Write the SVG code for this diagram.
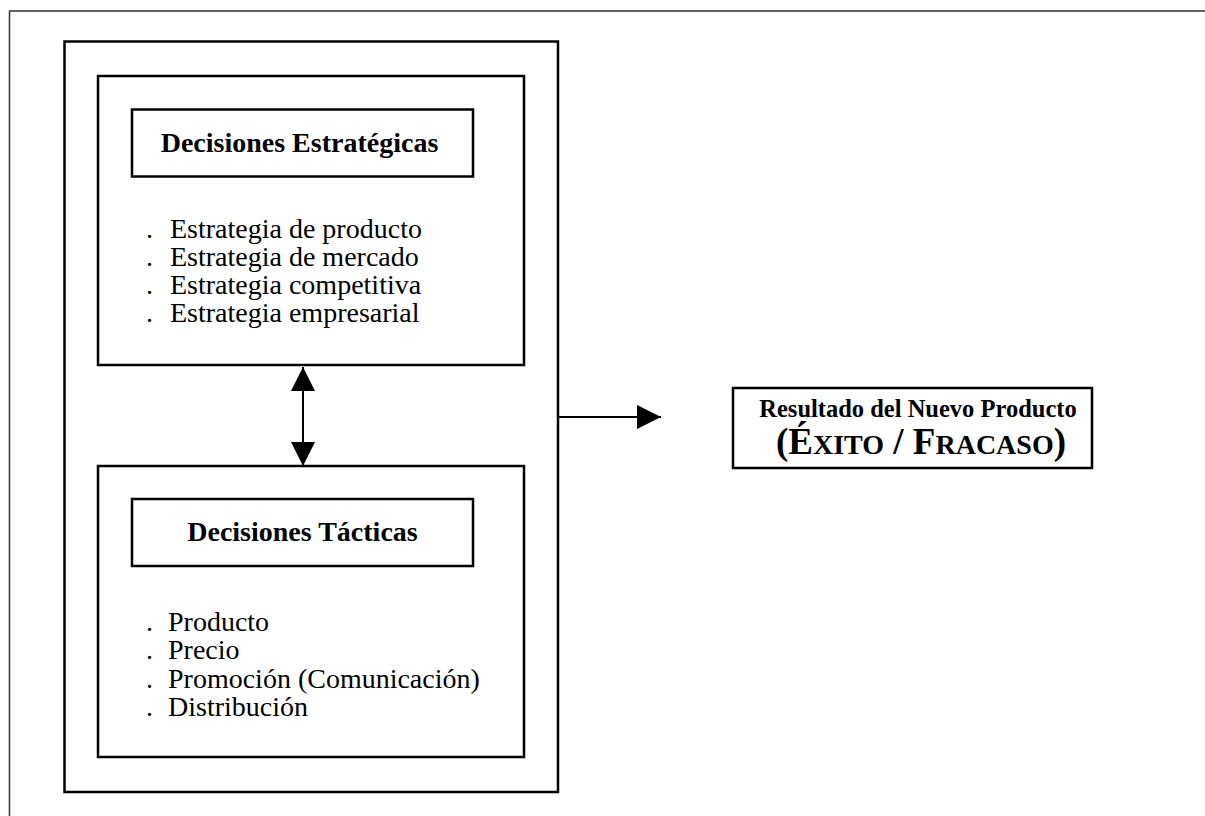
<svg xmlns="http://www.w3.org/2000/svg" width="1205" height="816" viewBox="0 0 1205 816">
  <style>
    .box { fill: none; stroke: #000; stroke-width: 2.5; }
    .frame { fill: none; stroke: #333; stroke-width: 1.5; }
    .head { font-family: "Liberation Serif", "Times New Roman", serif; font-weight: bold; font-size: 28px; fill: #000; text-anchor: middle; }
    .item { font-family: "Liberation Serif", "Times New Roman", serif; font-size: 28px; fill: #000; }
    .res { font-family: "Liberation Serif", "Times New Roman", serif; font-weight: bold; fill: #000; text-anchor: middle; }
    .link { stroke: #000; stroke-width: 2; fill: none; }
  </style>
  <defs>
    <marker id="tip" viewBox="0 0 24 24" refX="24" refY="12" markerWidth="24" markerHeight="24" markerUnits="userSpaceOnUse" orient="auto-start-reverse">
      <path d="M0,0 L24,12 L0,24 Z" fill="#000"/>
    </marker>
  </defs>
  <rect width="1205" height="816" fill="#fff"/>

  <!-- page frame (top and left edges) -->
  <path class="frame" d="M9.5,816 V11 H1205"/>

  <!-- outer container -->
  <g id="container">
    <rect class="box" x="64.5" y="41.5" width="493.5" height="750.5"/>
  </g>

  <!-- strategic decisions -->
  <g id="strategic">
    <rect class="box" x="98" y="76" width="426" height="289"/>
    <rect class="box" x="132" y="109.5" width="341" height="67"/>
    <text class="head" x="299.5" y="152">Decisiones Estratégicas</text>
    <g class="item">
      <text x="146" y="238">.</text><text x="170" y="238">Estrategia de producto</text>
      <text x="146" y="266">.</text><text x="170" y="266">Estrategia de mercado</text>
      <text x="146" y="294">.</text><text x="170" y="294">Estrategia competitiva</text>
      <text x="146" y="322">.</text><text x="170" y="322">Estrategia empresarial</text>
    </g>
  </g>

  <!-- tactical decisions -->
  <g id="tactical">
    <rect class="box" x="98" y="466" width="426" height="291"/>
    <rect class="box" x="132" y="499" width="341" height="67"/>
    <text class="head" x="302.5" y="541">Decisiones Tácticas</text>
    <g class="item">
      <text x="146" y="631">.</text><text x="168" y="631">Producto</text>
      <text x="146" y="659">.</text><text x="168" y="659">Precio</text>
      <text x="146" y="688">.</text><text x="168" y="688">Promoción (Comunicación)</text>
      <text x="146" y="716">.</text><text x="168" y="716">Distribución</text>
    </g>
  </g>

  <!-- outcome -->
  <g id="outcome">
    <rect class="box" x="733" y="388" width="359" height="80"/>
    <text class="res" x="918" y="417" font-size="24.5">Resultado del Nuevo Producto</text>
    <text class="res" x="921" y="454"><tspan font-size="37">(É</tspan><tspan font-size="28">XITO</tspan><tspan font-size="37"> / F</tspan><tspan font-size="28">RACASO</tspan><tspan font-size="37">)</tspan></text>
  </g>

  <!-- connectors -->
  <g id="connectors">
    <line class="link" x1="303" y1="367" x2="303" y2="466" marker-start="url(#tip)" marker-end="url(#tip)"/>
    <line class="link" x1="558" y1="417" x2="661" y2="417" marker-end="url(#tip)"/>
  </g>
</svg>
